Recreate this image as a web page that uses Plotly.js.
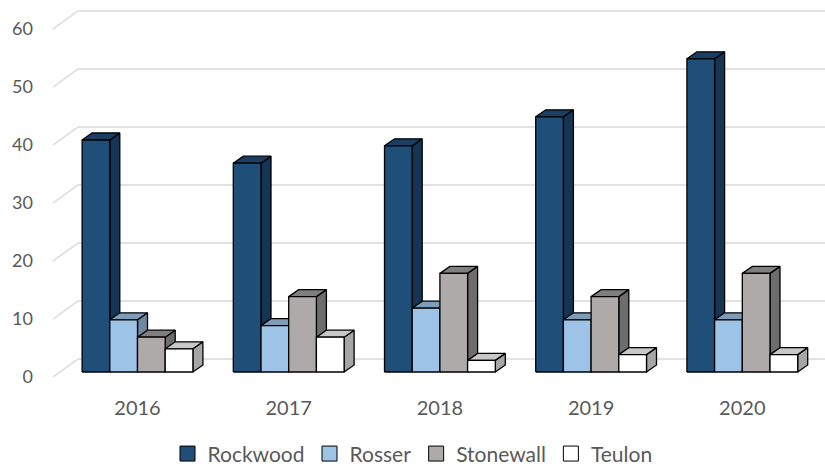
<!DOCTYPE html>
<html>
<head>
<meta charset="utf-8">
<script src="https://cdn.plot.ly/plotly-3.0.1.min.js"></script>
<style>html,body{margin:0;padding:0;background:#fff;}#chart{width:825px;height:467px;}</style>
</head>
<body>
<div id="chart"></div>
<script>
// ---- data ----
const years = ["2016", "2017", "2018", "2019", "2020"];
const seriesNames = ["Rockwood", "Rosser", "Stonewall", "Teulon"];
const rockwood = [40, 36, 39, 44, 54];
const rosser = [9, 8, 11, 9, 9];
const stonewall = [6, 13, 17, 13, 17];
const teulon = [4, 6, 2, 3, 3];
const yTicks = [0, 10, 20, 30, 40, 50, 60];

// ---- styles ----
const frontColors = ["#1f4e79", "#9dc3e6", "#aeaaaa", "#ffffff"];
const topColors   = ["#1a3f63", "#7e9cb8", "#7f7f7f", "#c8c8c8"];
const sideColors  = ["#163454", "#6e88a0", "#6d6d6d", "#a6a6a6"];
const allSeries = [rockwood, rosser, stonewall, teulon];

// ---- projection geometry (pixel-based constants converted to axis units) ----
const W = 825, H = 467;
const mL = 40, mR = 0, mT = 5, mB = 77;
const pxPerX = 151.2;          // px per category
const firstCenterPx = 137.5;   // px of first category centre
const pxPerY = 5.8;            // px per value unit
const zeroPx = 377;            // px of value 0 at front floor
const xr0 = (mL - firstCenterPx) / pxPerX;
const xr1 = xr0 + (W - mL - mR) / pxPerX;
const yr0 = (zeroPx - (H - mB)) / pxPerY;
const yr1 = (zeroPx - mT) / pxPerY;

const barW = 27.7 / pxPerX;
const groupW = barW * seriesNames.length;
const barBase = 5 / pxPerY;          // bar front bottom above floor front edge
const bDX = 10 / pxPerX, bDY = 7 / pxPerY; // bar depth
const wallFrontX = (53 - firstCenterPx) / pxPerX;
const wallBackX = (78 - firstCenterPx) / pxPerX;
const wallDY = 18 / pxPerY;

const traces = [];

// gridlines (diagonal on side + horizontal on back wall)
const gx = [], gy = [];
yTicks.forEach(g => {
  gx.push(wallFrontX, wallBackX, xr1, null);
  gy.push(g, g + wallDY, g + wallDY, null);
});
traces.push({type: "scatter", mode: "lines", x: gx, y: gy, line: {color: "#d9d9d9", width: 1.5},
  hoverinfo: "skip", showlegend: false});

// bars as projected faces
allSeries.forEach((vals, k) => {
  const sx = [], sy = [], tx = [], ty = [], fx = [], fy = [];
  vals.forEach((v, i) => {
    const L = i - groupW / 2 + k * barW, R = L + barW;
    const b = barBase, t = barBase + v;
    sx.push(R, R + bDX, R + bDX, R, R, null);
    sy.push(b, b + bDY, t + bDY, t, b, null);
    tx.push(L, L + bDX, R + bDX, R, L, null);
    ty.push(t, t + bDY, t + bDY, t, t, null);
    fx.push(L, R, R, L, L, null);
    fy.push(b, b, t, t, b, null);
  });
  const ln = {color: "#000000", width: 1.3};
  traces.push({type: "scatter", mode: "lines", x: sx, y: sy, fill: "toself", fillcolor: sideColors[k], line: ln, hoverinfo: "skip", showlegend: false});
  traces.push({type: "scatter", mode: "lines", x: tx, y: ty, fill: "toself", fillcolor: topColors[k], line: ln, hoverinfo: "skip", showlegend: false});
  traces.push({type: "scatter", mode: "lines", x: fx, y: fy, fill: "toself", fillcolor: frontColors[k], line: ln, name: seriesNames[k], hoverinfo: "skip", showlegend: false});
});

// legend entries
seriesNames.forEach((n, k) => {
  traces.push({type: "scatter", mode: "markers", x: [null], y: [null], name: n,
    marker: {symbol: "square", size: 15, color: frontColors[k], line: {color: "#000000", width: 1}}});
});

const layout = {
  width: W, height: H,
  margin: {l: mL, r: mR, t: mT, b: mB},
  paper_bgcolor: "#ffffff", plot_bgcolor: "rgba(0,0,0,0)",
  font: {family: "Lato, 'Open Sans', sans-serif", color: "#595959"},
  xaxis: {range: [xr0, xr1], tickvals: years.map((y, i) => i), ticktext: years,
    showgrid: false, zeroline: false, showline: false, ticks: "", ticklabelstandoff: 4,
    tickfont: {size: 20, color: "#595959"}, fixedrange: true},
  yaxis: {range: [yr0, yr1], tickvals: yTicks, ticktext: yTicks.map(String),
    showgrid: false, zeroline: false, showline: false, ticks: "", ticklabelstandoff: 6,
    tickfont: {size: 18, color: "#595959"}, fixedrange: true},
  showlegend: true,
  legend: {orientation: "h", xref: "container", yref: "container", x: 0.5, xanchor: "center",
    y: 0.028, yanchor: "middle", font: {size: 21, color: "#595959"}, itemwidth: 30,
    tracegroupgap: 0, bgcolor: "rgba(0,0,0,0)"}
};

Plotly.newPlot("chart", traces, layout, {displayModeBar: false, staticPlot: true});
</script>
</body>
</html>
